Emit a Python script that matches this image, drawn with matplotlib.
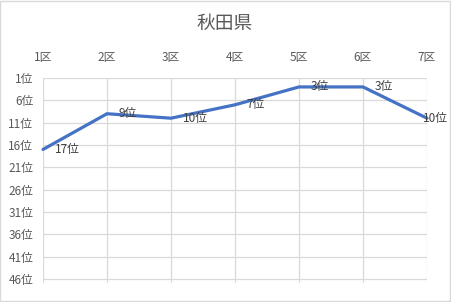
#!/usr/bin/env python3
"""秋田県: district ranking line chart (rank axis reversed, categories on top)."""

import matplotlib
matplotlib.use("Agg")
import matplotlib.pyplot as plt
from matplotlib.patches import Rectangle

plt.rcParams["font.family"] = ["Noto Sans CJK JP", "DejaVu Sans"]

districts = ["1区", "2区", "3区", "4区", "5区", "6区", "7区"]
ranks = [17, 9, 10, 7, 3, 3, 10]
rank_ticks = [1, 6, 11, 16, 21, 26, 31, 36, 41, 46]

TEXT = "#595959"
GRID = "#D9D9D9"
LINE = "#4472C4"

fig = plt.figure(figsize=(4.51, 3.02), dpi=100)
ax = fig.add_axes([43 / 451, 1 - 283 / 302, 384 / 451, 205 / 302])

x = list(range(len(districts)))
ax.plot(x, ranks, color=LINE, linewidth=2.3, solid_capstyle="round", zorder=3, clip_on=False)
for xi, r in zip(x, ranks):
    # Excel pushes the last label back inside the chart area
    dx = -3 if xi == x[-1] else 8.5
    ax.annotate(f"{r}位", (xi, r), xytext=(dx, 0), textcoords="offset points",
                ha="left", va="center", fontsize=8.5, color="#404040", zorder=4,
                annotation_clip=False)

ax.set_xlim(0, len(districts) - 1)
ax.set_ylim(46.9, 1)
ax.set_xticks(x)
ax.set_xticklabels(districts)
ax.set_yticks(rank_ticks)
ax.set_yticklabels([f"{r}位" for r in rank_ticks])
ax.xaxis.tick_top()
ax.tick_params(axis="x", length=0, pad=10, labelsize=8.5, labelcolor=TEXT)
ax.tick_params(axis="y", length=0, pad=7, labelsize=8.5, labelcolor=TEXT)
for s in ax.spines.values():
    s.set_visible(False)
ax.grid(True, color=GRID, linewidth=0.9)
ax.set_axisbelow(True)

fig.text(225 / 451, 1 - 23 / 302, "秋田県", ha="center", va="center", fontsize=13.5, color=TEXT)
fig.patches.append(Rectangle((0.001, 0.004), 0.997, 0.994, transform=fig.transFigure,
                             fill=False, edgecolor=GRID, linewidth=1.0))

fig.savefig("out.png", dpi=100)
